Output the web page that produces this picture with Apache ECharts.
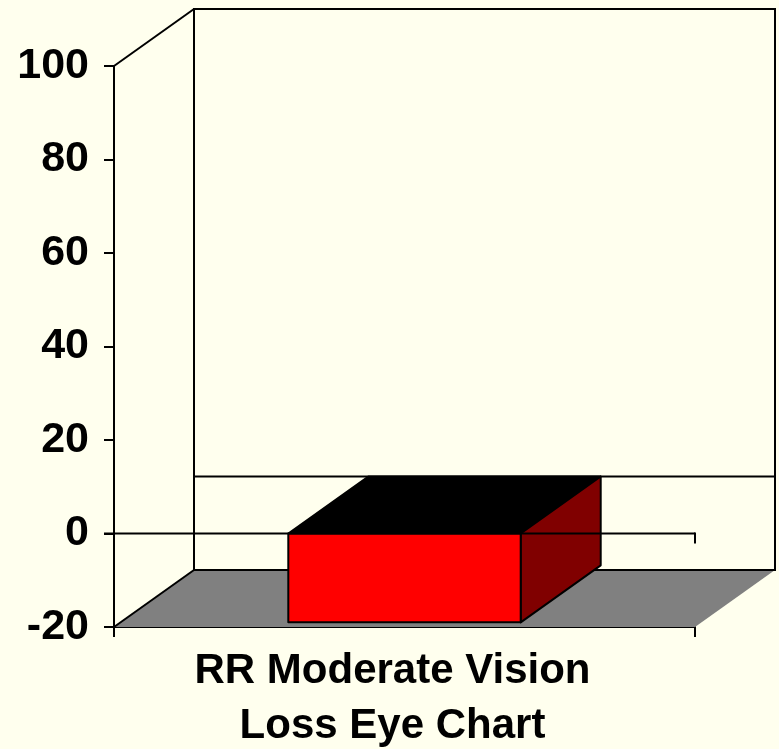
<!DOCTYPE html>
<html>
<head>
<meta charset="utf-8">
<script src="https://cdn.jsdelivr.net/npm/echarts@6/dist/echarts.min.js"></script>
<style>
  html, body { margin: 0; padding: 0; background: #FFFFEE; }
  #chart { width: 779px; height: 749px; }
</style>
</head>
<body>
<div id="chart"></div>
<script>
// Chart data
const categories = ['RR Moderate Vision\nLoss Eye Chart'];
const values = [-19];
const yMin = -20;
const yMax = 100;
const yStep = 20;

// 3D projection offset of the back wall (pixels)
const DX = 80;
const DY = 57;
const BAR_RATIO = 0.4;
const LINE = '#000000';

const chart = echarts.init(document.getElementById('chart'), null, { renderer: 'canvas' });

function line(x1, y1, x2, y2, w) {
  return {
    type: 'line',
    shape: { x1: x1, y1: y1, x2: x2, y2: y2 },
    style: { stroke: LINE, lineWidth: w || 2 }
  };
}

// Floor, back wall and side-wall edges of the 3D box
function renderFrame(params, api) {
  const cs = params.coordSys;
  const x0 = cs.x, x1 = cs.x + cs.width;
  const yT = cs.y, yB = cs.y + cs.height;
  const yZero = api.coord([0, 0])[1];
  return {
    type: 'group',
    children: [
      {
        type: 'polygon',
        shape: { points: [[x0, yB], [x1, yB], [x1 + DX, yB - DY], [x0 + DX, yB - DY]] },
        style: { fill: '#808080', stroke: null }
      },
      {
        type: 'rect',
        shape: { x: x0 + DX, y: yT - DY, width: cs.width, height: cs.height },
        style: { fill: null, stroke: LINE, lineWidth: 2 }
      },
      line(x0, yT, x0 + DX, yT - DY),
      line(x0, yB, x0 + DX, yB - DY),
      line(x0 + DX, yZero - DY, x1 + DX, yZero - DY)
    ]
  };
}

// A box-shaped bar: front, top and right faces
function renderBar(params, api) {
  const cat = api.value(0);
  const v = api.value(1);
  const pZero = api.coord([cat, 0]);
  const pVal = api.coord([cat, v]);
  const w = api.size([1, 0])[0] * BAR_RATIO;
  const xl = pZero[0] - w / 2, xr = xl + w;
  const yt = Math.min(pZero[1], pVal[1]);
  const yb = Math.max(pZero[1], pVal[1]);
  const edge = { stroke: LINE, lineWidth: 2, lineJoin: 'round' };
  return {
    type: 'group',
    children: [
      {
        type: 'polygon',
        shape: { points: [[xl, yt], [xr, yt], [xr + DX, yt - DY], [xl + DX, yt - DY]] },
        style: Object.assign({ fill: '#000000' }, edge)
      },
      {
        type: 'polygon',
        shape: { points: [[xr, yt], [xr + DX, yt - DY], [xr + DX, yb - DY], [xr, yb]] },
        style: Object.assign({ fill: '#800000' }, edge)
      },
      {
        type: 'rect',
        shape: { x: xl, y: yt, width: w, height: yb - yt },
        style: Object.assign({ fill: '#FF0000' }, edge)
      }
    ]
  };
}

// Front zero line with its end tick
function renderZero(params, api) {
  const cs = params.coordSys;
  const yZero = api.coord([0, 0])[1];
  const x1 = cs.x + cs.width;
  return {
    type: 'group',
    children: [
      line(cs.x - 10, yZero, x1, yZero),
      line(x1, yZero - 1, x1, yZero + 10)
    ]
  };
}

const barData = categories.map(function (c, i) { return [i, values[i]]; });

chart.setOption({
  backgroundColor: '#FFFFEE',
  animation: false,
  grid: {
    left: 114, right: 84, top: 66, bottom: 122,
    containLabel: false,
    outerBoundsMode: 'none'
  },
  xAxis: {
    type: 'category',
    data: categories,
    boundaryGap: true,
    axisLine: { onZero: false, lineStyle: { color: LINE, width: 2 } },
    axisTick: { show: true, length: 10, lineStyle: { color: LINE, width: 2 } },
    axisLabel: {
      margin: 17,
      color: '#000000',
      fontFamily: 'Liberation Sans, Arial, sans-serif',
      fontWeight: 'bold',
      fontSize: 42,
      lineHeight: 55,
      padding: [0, 24, 0, 0]
    },
    splitLine: { show: false }
  },
  yAxis: {
    type: 'value',
    min: yMin,
    max: yMax,
    interval: yStep,
    axisLine: { show: true, lineStyle: { color: LINE, width: 2 } },
    axisTick: { show: true, length: 10, lineStyle: { color: LINE, width: 2 } },
    axisLabel: {
      margin: 25,
      color: '#000000',
      fontFamily: 'Liberation Sans, Arial, sans-serif',
      fontWeight: 'bold',
      fontSize: 43
    },
    splitLine: { show: false }
  },
  series: [
    {
      type: 'custom',
      name: 'frame',
      clip: false,
      z: 1,
      silent: true,
      renderItem: renderFrame,
      data: [[0, 0]]
    },
    {
      type: 'custom',
      name: 'bar',
      clip: false,
      z: 2,
      renderItem: renderBar,
      data: barData
    },
    {
      type: 'custom',
      name: 'zero',
      clip: false,
      z: 3,
      silent: true,
      renderItem: renderZero,
      data: [[0, 0]]
    }
  ]
});
</script>
</body>
</html>
